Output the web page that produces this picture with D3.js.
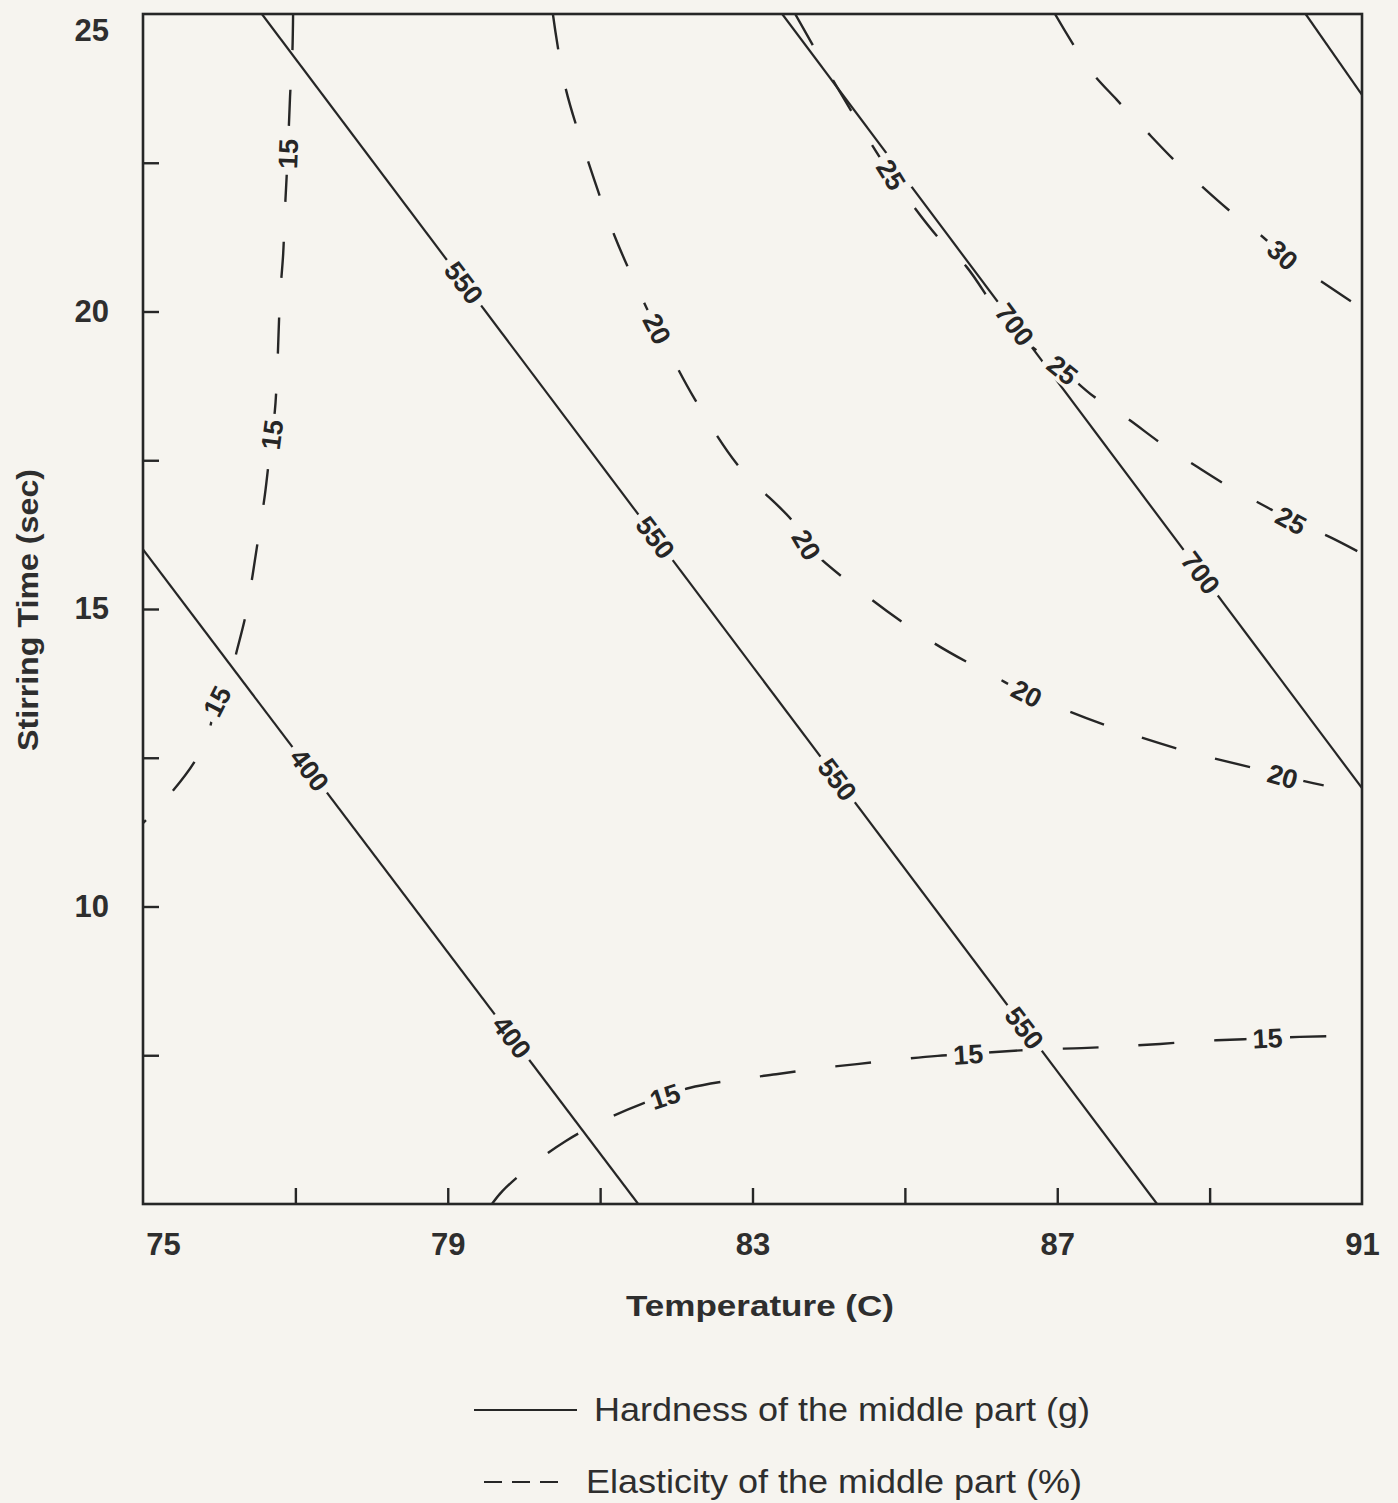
<!DOCTYPE html>
<html>
<head>
<meta charset="utf-8">
<script src="https://cdn.jsdelivr.net/npm/d3@7"></script>
<style>
  body { margin: 0; background: #f6f4ef; }
  svg { display: block; font-family: "Liberation Sans", Arial, sans-serif; }
</style>
</head>
<body>
<div id="chart"></div>
<script>
// ticks
var xLabelTicks = [75, 79, 83, 87, 91];
var xTicks = [77, 79, 81, 83, 85, 87, 89];
var yLabelTicks = [25, 20, 15, 10];
var yTicks = [22.5, 20, 17.5, 15, 12.5, 10, 7.5];

// hardness of the middle part (g), solid contours, [temperature, stirring time]
var hardnessLevels = [400, 550, 700, 850];
var hardness400 = [[75, 16.0], [81.5, 5]];
var hardness550 = [[76.56, 25], [88.31, 5]];
var hardness700 = [[83.39, 25], [91, 11.99]];
var hardness850 = [[90.26, 25], [91, 23.64]];

// elasticity of the middle part (%), dashed contours
var elasticityLevels = [15, 15, 20, 25, 30];
var elasticity15a = [[76.97, 25], [76.96, 24.33], [76.93, 23.61], [76.90, 22.65], [76.86, 21.62],
  [76.84, 20.97], [76.80, 20.28], [76.78, 19.66], [76.76, 18.95], [76.73, 18.32], [76.69, 17.93],
  [76.60, 16.92], [76.52, 16.25], [76.44, 15.58], [76.35, 14.91], [76.23, 14.29], [76.15, 13.90],
  [75.97, 13.45], [75.85, 12.89], [75.68, 12.44], [75.35, 11.88], [75, 11.40]];
var elasticity15b = [[79.58, 5], [79.72, 5.22], [80.12, 5.67], [80.55, 6.06], [81.02, 6.39],
  [81.54, 6.68], [81.85, 6.81], [82.17, 6.95], [82.83, 7.10], [83.31, 7.18], [83.86, 7.28],
  [84.37, 7.35], [84.92, 7.43], [85.43, 7.49], [85.83, 7.52], [86.14, 7.55], [86.77, 7.60],
  [87.32, 7.62], [87.83, 7.65], [88.35, 7.69], [88.90, 7.74], [89.45, 7.77], [89.76, 7.79],
  [90.55, 7.82], [91, 7.82]];
var elasticity20 = [[80.38, 25], [80.54, 23.79], [80.84, 22.53], [81.19, 21.27], [81.61, 20.06],
  [81.75, 19.71], [82.24, 18.53], [82.83, 17.38], [83.53, 16.47], [83.71, 16.08], [84.54, 15.18],
  [85.39, 14.42], [86.30, 13.78], [86.60, 13.58], [87.56, 13.08], [88.61, 12.64], [89.66, 12.30],
  [89.96, 12.19], [91, 11.90]];
var elasticity25 = [[83.56, 25], [84.11, 23.77], [84.82, 22.30], [85.42, 21.27], [85.81, 20.75],
  [86.38, 19.73], [87.07, 19.02], [87.48, 18.57], [87.90, 18.22], [88.39, 17.76], [88.81, 17.41],
  [89.30, 17.02], [89.71, 16.74], [90.07, 16.49], [90.56, 16.22], [91, 15.93]];
var elasticity30 = [[86.97, 25], [87.43, 24.06], [87.78, 23.56], [88.14, 23.07], [88.53, 22.55],
  [88.91, 22.09], [89.33, 21.62], [89.71, 21.24], [89.96, 20.95], [90.59, 20.40], [91, 20.05]];

// contour label spots: [contour index, temperature, stirring time]
var hardnessLabels = [[0, 77.19, 12.3], [0, 79.84, 7.8],
  [1, 79.23, 20.5], [1, 81.65, 16.13], [1, 84.08, 12.1], [1, 86.51, 7.9],
  [2, 86.40, 19.74], [2, 88.81, 15.54]];
var elasticityLabels = [[0, 76.90, 22.65], [0, 76.69, 17.93], [0, 75.97, 13.45],
  [1, 81.85, 6.81], [1, 85.83, 7.52], [1, 89.76, 7.79],
  [2, 81.75, 19.71], [2, 83.71, 16.08], [2, 86.60, 13.58], [2, 89.96, 12.19],
  [3, 84.82, 22.30], [3, 87.07, 19.02], [3, 90.07, 16.49],
  [4, 89.96, 20.95]];

var hardnessLines = [hardness400, hardness550, hardness700, hardness850];
var elasticityLines = [elasticity15a, elasticity15b, elasticity20, elasticity25, elasticity30];

var width = 1398, height = 1503;
var bg = '#f6f4ef', ink = '#262626';
var plot = {left: 143, right: 1362, top: 14, bottom: 1204};

var svg = d3.select('#chart').append('svg')
  .attr('width', width)
  .attr('height', height);

svg.append('rect').attr('width', width).attr('height', height).attr('fill', bg);

var x = d3.scaleLinear().domain([75, 91]).range([plot.left, plot.right]);
var y = d3.scaleLinear().domain([5, 25]).range([plot.bottom, plot.top]);

svg.append('clipPath').attr('id', 'clip')
  .append('rect')
  .attr('x', plot.left).attr('y', plot.top)
  .attr('width', plot.right - plot.left).attr('height', plot.bottom - plot.top);

var line = d3.line()
  .x(function(d) { return x(d[0]); })
  .y(function(d) { return y(d[1]); })
  .curve(d3.curveCatmullRom);

var g = svg.append('g').attr('clip-path', 'url(#clip)');

/* contour lines */
g.selectAll('.hardness').data(hardnessLines).enter()
  .append('path')
  .attr('class', 'hardness')
  .attr('d', line)
  .attr('fill', 'none')
  .attr('stroke', ink)
  .attr('stroke-width', 2.2);

g.selectAll('.elasticity').data(elasticityLines).enter()
  .append('path')
  .attr('class', 'elasticity')
  .attr('d', line)
  .attr('fill', 'none')
  .attr('stroke', ink)
  .attr('stroke-width', 2.4)
  .attr('stroke-dasharray', '36,40');

// nearest point on a contour (in pixels) and the direction there
function snap(points, px, py) {
  var best = null;
  for (var i = 0; i < points.length - 1; i++) {
    var ax = x(points[i][0]), ay = y(points[i][1]);
    var bx = x(points[i + 1][0]), by = y(points[i + 1][1]);
    var dx = bx - ax, dy = by - ay;
    var t = ((px - ax) * dx + (py - ay) * dy) / (dx * dx + dy * dy);
    t = Math.max(0, Math.min(1, t));
    var qx = ax + t * dx, qy = ay + t * dy;
    var dist = (qx - px) * (qx - px) + (qy - py) * (qy - py);
    if (!best || dist < best.dist) best = {x: qx, y: qy, dx: dx, dy: dy, dist: dist};
  }
  var angle = Math.atan2(best.dy, best.dx) * 180 / Math.PI;
  if (angle > 90) angle -= 180;
  if (angle <= -90) angle += 180;
  return {x: best.x, y: best.y, angle: angle};
}

function drawLabels(spots, lines, levels) {
  spots.forEach(function(s) {
    var p = snap(lines[s[0]], x(s[1]), y(s[2]));
    var lg = g.append('g')
      .attr('transform', 'translate(' + p.x + ',' + p.y + ') rotate(' + p.angle + ')');
    var bgRect = lg.append('rect').attr('fill', bg);
    var txt = lg.append('text')
      .attr('text-anchor', 'middle')
      .attr('dy', '0.36em')
      .attr('font-size', 27)
      .attr('font-weight', 'bold')
      .attr('fill', ink)
      .text(levels[s[0]]);
    var w = txt.node().getComputedTextLength() + 12;
    bgRect.attr('x', -w / 2).attr('y', -13).attr('width', w).attr('height', 26);
  });
}

drawLabels(hardnessLabels, hardnessLines, hardnessLevels);
drawLabels(elasticityLabels, elasticityLines, elasticityLevels);

/* frame */
svg.append('rect')
  .attr('x', plot.left).attr('y', plot.top)
  .attr('width', plot.right - plot.left).attr('height', plot.bottom - plot.top)
  .attr('fill', 'none')
  .attr('stroke', ink)
  .attr('stroke-width', 2.6);

/* axes: inward ticks, labels separately */
var xTickAxis = svg.append('g')
  .attr('transform', 'translate(0,' + plot.bottom + ')')
  .call(d3.axisBottom(x).tickValues(xTicks).tickSize(-16).tickFormat(''));
var xLabelAxis = svg.append('g')
  .attr('transform', 'translate(0,' + plot.bottom + ')')
  .call(d3.axisBottom(x).tickValues(xLabelTicks).tickSize(0).tickPadding(29).tickFormat(d3.format('d')));
var yTickAxis = svg.append('g')
  .attr('transform', 'translate(' + plot.left + ',0)')
  .call(d3.axisLeft(y).tickValues(yTicks).tickSize(-16).tickFormat(''));
var yLabelAxis = svg.append('g')
  .attr('transform', 'translate(' + plot.left + ',0)')
  .call(d3.axisLeft(y).tickValues(yLabelTicks).tickSize(0).tickPadding(34).tickFormat(d3.format('d')));

[xTickAxis, xLabelAxis, yTickAxis, yLabelAxis].forEach(function(a) {
  a.select('.domain').remove();
  a.selectAll('line').attr('stroke', ink).attr('stroke-width', 2.4);
  a.selectAll('text')
    .attr('fill', '#2e2e2e')
    .attr('font-size', 31)
    .attr('font-weight', 'bold')
    .attr('font-family', '"Liberation Sans", Arial, sans-serif');
});

// end labels sit inside the corner like the original
xLabelAxis.selectAll('text').filter(function(d) { return d === 75; }).attr('dx', 20);
yLabelAxis.selectAll('text').filter(function(d) { return d === 25; }).attr('dy', '0.85em');

/* axis titles */
svg.append('text')
  .attr('x', 760).attr('y', 1316)
  .attr('text-anchor', 'middle')
  .attr('font-size', 29).attr('font-weight', 'bold')
  .attr('fill', '#2e2e2e')
  .attr('textLength', 268).attr('lengthAdjust', 'spacingAndGlyphs')
  .text('Temperature (C)');

svg.append('text')
  .attr('transform', 'translate(38,610) rotate(-90)')
  .attr('text-anchor', 'middle')
  .attr('font-size', 29).attr('font-weight', 'bold')
  .attr('fill', '#2e2e2e')
  .attr('textLength', 282).attr('lengthAdjust', 'spacingAndGlyphs')
  .text('Stirring Time (sec)');

/* legend */
svg.append('line')
  .attr('x1', 474).attr('x2', 577).attr('y1', 1410).attr('y2', 1410)
  .attr('stroke', ink).attr('stroke-width', 2.2);
svg.append('text')
  .attr('x', 594).attr('y', 1421)
  .attr('font-size', 33).attr('fill', '#2e2e2e')
  .attr('textLength', 496).attr('lengthAdjust', 'spacingAndGlyphs')
  .text('Hardness of the middle part (g)');

svg.append('line')
  .attr('x1', 484).attr('x2', 560).attr('y1', 1482).attr('y2', 1482)
  .attr('stroke', ink).attr('stroke-width', 2.2)
  .attr('stroke-dasharray', '18,10');
svg.append('text')
  .attr('x', 586).attr('y', 1493)
  .attr('font-size', 33).attr('fill', '#2e2e2e')
  .attr('textLength', 496).attr('lengthAdjust', 'spacingAndGlyphs')
  .text('Elasticity of the middle part (%)');
</script>
</body>
</html>
